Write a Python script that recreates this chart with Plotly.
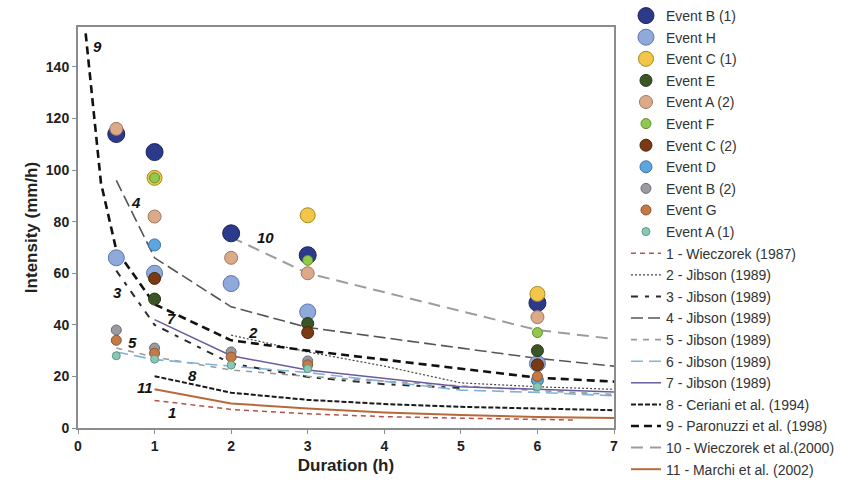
import plotly.graph_objects as go

# ---------------- data ----------------
events = ["Event B (1)", "Event H", "Event C (1)", "Event E", "Event A (2)", "Event F",
          "Event C (2)", "Event D", "Event B (2)", "Event G", "Event A (1)"]

b1_x = [0.5, 1, 2, 3, 6];      b1_y = [114, 107, 75.5, 67, 48.5]
h_x = [0.5, 1, 2, 3, 6];       h_y = [66, 60, 56, 45, 25]
c1_x = [1, 3, 6];              c1_y = [97, 82.5, 52]
e_x = [1, 3, 6];               e_y = [50, 40.5, 30]
a2_x = [0.5, 1, 2, 3, 6];      a2_y = [116, 82, 66, 60, 43]
f_x = [1, 3, 6];               f_y = [97, 65, 37]
c2_x = [1, 3, 6];              c2_y = [58, 37, 24.5]
d_x = [1, 6];                  d_y = [71, 18.5]
b2_x = [0.5, 1, 2, 3];         b2_y = [38, 31, 29.5, 26]
g_x = [0.5, 1, 2, 3, 6];       g_y = [34, 29, 27.5, 24.5, 20]
a1_x = [0.5, 1, 2, 3, 6];      a1_y = [28, 26.7, 24.4, 23, 16]

event_x = [b1_x, h_x, c1_x, e_x, a2_x, f_x, c2_x, d_x, b2_x, g_x, a1_x]
event_y = [b1_y, h_y, c1_y, e_y, a2_y, f_y, c2_y, d_y, b2_y, g_y, a1_y]

thr_names = ["1 - Wieczorek (1987)", "2 - Jibson (1989)", "3 - Jibson (1989)",
             "4 - Jibson (1989)", "5 - Jibson (1989)", "6 - Jibson (1989)",
             "7 - Jibson (1989)", "8 - Ceriani et al. (1994)",
             "9 - Paronuzzi et al. (1998)", "10 - Wieczorek et al.(2000)",
             "11 - Marchi et al. (2002)"]

t1_x = [1, 2, 3, 4, 5, 6, 6.5];        t1_y = [10.7, 7.2, 5.5, 4.4, 3.8, 3.3, 3.1]
t2_x = [2, 3, 4, 5, 6, 7];             t2_y = [36, 29.5, 24, 17.5, 16, 15]
t3_x = [0.5, 1, 2, 3, 4, 5];           t3_y = [61, 40, 25, 19.8, 17, 15.5]
t4_x = [0.5, 1, 2, 3, 6, 7];           t4_y = [96, 66, 47, 39, 27, 24]
t5_x = [0.5, 1, 2, 3, 6, 7];           t5_y = [31, 27.5, 22.5, 20, 14.5, 13]
t6_x = [0.5, 1, 2, 3, 5, 6, 7];        t6_y = [29.5, 26.5, 24, 21.5, 14.7, 13.8, 12.5]
t7_x = [1, 2, 3, 5, 6, 7];             t7_y = [42, 28, 22.5, 16, 15, 14]
t8_x = [1, 2, 3, 4, 5, 6, 7];          t8_y = [20.1, 13.7, 10.9, 9.3, 8.2, 7.5, 6.9]
t9_x = [0.1, 0.3, 0.5, 1, 2, 3, 6, 7]; t9_y = [153, 95, 69, 48, 34, 30, 19.5, 18]
t10_x = [2, 3, 6, 7];                  t10_y = [74, 60, 38, 34.5]
t11_x = [1, 2, 3, 4, 5, 6, 7];         t11_y = [15, 9.5, 7.6, 6.0, 5.0, 4.3, 3.9]

thr_x = [t1_x, t2_x, t3_x, t4_x, t5_x, t6_x, t7_x, t8_x, t9_x, t10_x, t11_x]
thr_y = [t1_y, t2_y, t3_y, t4_y, t5_y, t6_y, t7_y, t8_y, t9_y, t10_y, t11_y]

label_text = ["9", "4", "10", "3", "7", "2", "5", "8", "11", "1"]
label_x = [0.26, 0.76, 2.45, 0.52, 1.22, 2.29, 0.71, 1.49, 0.88, 1.23]
label_y = [148, 87.5, 74, 52.5, 42.5, 37, 33, 20.2, 15.9, 6.2]

x_ticks = [0, 1, 2, 3, 4, 5, 6, 7]
y_ticks = [0, 20, 40, 60, 80, 100, 120, 140]

# ---------------- styles ----------------
ev_colors = ["#2C3A8C", "#8FA9DA", "#F3C64A", "#3C5526", "#DCAA88", "#93C84E",
             "#7A3A14", "#5DA5DD", "#9C9AA0", "#C47A46", "#8CC7B6"]
ev_lines = ["#1B245E", "#5E76A8", "#A08A20", "#26361A", "#A07860", "#5F8F2E",
            "#4E240A", "#3C74A8", "#6E6C74", "#8A5430", "#5E9A88"]
ev_sizes = [17, 16, 15, 12, 13, 10, 12, 12, 10, 10, 8]

thr_colors = ["#B5524A", "#444444", "#2A2A2A", "#555555", "#9A9A9A", "#7FB3D8",
              "#6B5B9E", "#1A1A1A", "#111111", "#9C9C9C", "#B8693C"]
thr_widths = [1.5, 1.2, 2, 1.6, 1.6, 1.6, 1.5, 2, 2.6, 2, 2]
thr_dash = ["5px,4px", "2px,2px", "7px,7px,4px,7px", "12px,5px", "6px,6px",
            "12px,6px", "solid", "5px,2px", "8px,5px", "12px,7px", "solid"]

fig = go.Figure()

for i, name in enumerate(thr_names):
    fig.add_trace(go.Scatter(
        x=thr_x[i], y=thr_y[i], mode="lines", name=name,
        line=dict(color=thr_colors[i], width=thr_widths[i], dash=thr_dash[i]),
        legendrank=100 + i, legendgroup="t%d" % i, hoverinfo="skip"))

for i, name in enumerate(events):
    fig.add_trace(go.Scatter(
        x=event_x[i], y=event_y[i], mode="markers", name=name,
        marker=dict(color=ev_colors[i], size=ev_sizes[i],
                    line=dict(color=ev_lines[i], width=1)),
        legendrank=1 + i, legendgroup="e%d" % i))

for t, x, y in zip(label_text, label_x, label_y):
    fig.add_annotation(x=x, y=y, text="<b><i>%s</i></b>" % t, showarrow=False,
                       font=dict(family="Liberation Sans, Arial", size=15, color="#111"))

axis_common = dict(showline=True, linecolor="#8C8C8C", linewidth=2, mirror=True,
                   ticks="outside", ticklen=4, tickcolor="#8C8C8C", showgrid=False,
                   zeroline=False,
                   tickfont=dict(family="Liberation Sans, Arial", size=14,
                                 color="#222", weight="bold"))

fig.update_layout(
    width=867, height=490,
    margin=dict(l=78, r=253, t=27, b=62, autoexpand=False),
    paper_bgcolor="white", plot_bgcolor="white",
    font=dict(family="Liberation Sans, Arial", color="#222"),
    xaxis=dict(range=[0, 7], tickvals=x_ticks,
               title=dict(text="<b>Duration (h)</b>", font=dict(size=17, color="#222"),
                          standoff=6),
               **axis_common),
    yaxis=dict(range=[0, 155.5], tickvals=y_ticks,
               title=dict(text="<b>Intensity (mm/h)</b>", font=dict(size=17, color="#222"),
                          standoff=4),
               **axis_common),
    legend=dict(x=0.722, xref="container", xanchor="left",
                y=1.0, yref="container", yanchor="top", maxheight=490,
                font=dict(family="Liberation Sans, Arial", size=14, color="#333"),
                tracegroupgap=0.4, bgcolor="rgba(0,0,0,0)", itemwidth=30),
    showlegend=True,
)

fig.write_html("out.html", config={"displayModeBar": False},
               post_script="document.body.style.margin='0px';")
